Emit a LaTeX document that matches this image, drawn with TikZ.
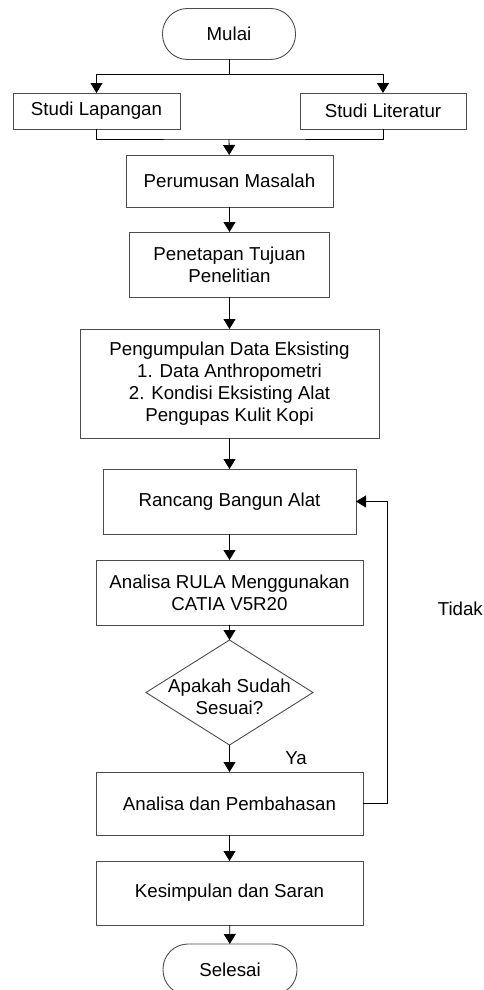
\documentclass[tikz,border=0pt]{standalone}
\usepackage{fontspec}
\setmainfont{Liberation Sans}
\usetikzlibrary{shapes.geometric,arrows.meta}
\tikzstyle{proses}=[draw=black!70, line width=0.9pt, text centered, align=center,
  inner sep=0pt, outer sep=0pt, font=\fontsize{18.7}{22}\selectfont]
\tikzstyle{terminal}=[proses, rounded corners=25pt, minimum width=133pt,
  minimum height=51pt]
\tikzstyle{keputusan}=[proses, diamond, minimum width=167pt, minimum height=105pt]
\tikzstyle{teks}=[inner sep=0pt, font=\fontsize{18.7}{22}\selectfont]
\tikzstyle{line}=[draw, line width=0.9pt, -{Triangle[width=12pt,length=10pt]}]
\tikzstyle{jalur}=[draw, line width=0.9pt]

\begin{document}
\begin{tikzpicture}[x=1pt,y=-1pt]
  \useasboundingbox (0,0) rectangle (484,990);

  % Draw diagram elements
  \node (mulai) [terminal] at (229,34) {Mulai};
  \node (lapangan) [proses, minimum width=167pt, minimum height=36pt] at (96.5,111) {Studi Lapangan};
  \node (literatur) [proses, minimum width=166pt, minimum height=36pt] at (383,111) {Studi Literatur};
  \node (perumusan) [proses, minimum width=207pt, minimum height=52pt] at (229.5,181) {Perumusan Masalah};
  \node (tujuan) [proses, minimum width=200pt, minimum height=65pt] at (229.5,264.5) {Penetapan Tujuan\\Penelitian};
  \node (data) [proses, minimum width=299pt, minimum height=109pt] at (229.5,383.5)
    {Pengumpulan Data Eksisting\\1. Data Anthropometri\\2. Kondisi Eksisting Alat\\Pengupas Kulit Kopi};
  \node (rancang) [proses, minimum width=253pt, minimum height=65pt] at (229.5,501.5) {Rancang Bangun Alat};
  \node (rula) [proses, minimum width=267pt, minimum height=65pt] at (229.5,592.5) {Analisa RULA Menggunakan\\CATIA V5R20};
  \node (cek) [keputusan, label={[teks, align=center, yshift=-4pt]center:Apakah Sudah\\Sesuai?}] at (229.5,692.5) {};
  \node (bahas) [proses, minimum width=267pt, minimum height=63pt] at (229.5,803.5) {Analisa dan Pembahasan};
  \node (simpul) [proses, minimum width=267pt, minimum height=64pt] at (229.5,893) {Kesimpulan dan Saran};
  \node (selesai) [terminal, minimum width=134pt] at (230,969.5) {Selesai};

  % Labels of the decision
  \node (ya) [teks] at (296,758) {Ya};
  \node (tidak) [teks, anchor=east] at (483,609) {Tidak};

  % Draw arrows between elements
  \coordinate (cabang) at (229,74);
  \coordinate (gabung) at (229,139);
  \path [jalur] (mulai.south) -- (cabang);
  \path [line] (cabang) -| (lapangan.north);
  \path [line] (cabang) -| (literatur.north);
  \path [jalur] (lapangan.south) |- (gabung) -| (literatur.south);
  \path [line] (gabung) -- (perumusan);
  \path [line] (perumusan) -- (tujuan);
  \path [line] (tujuan) -- (data);
  \path [line] (data) -- (rancang);
  \path [line] (rancang) -- (rula);
  \path [line] (rula) -- (cek);
  \path [line] (cek) -- (bahas);
  \path [line] (bahas.east) -- ++(24,0) |- (rancang.east);
  \path [line] (bahas) -- (simpul);
  \path [line] (simpul) -- (selesai);
\end{tikzpicture}
\end{document}
